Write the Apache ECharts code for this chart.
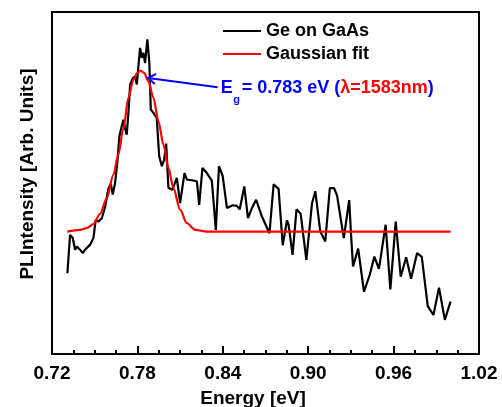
<!DOCTYPE html>
<html>
<head>
<meta charset="utf-8">
<script src="https://cdn.jsdelivr.net/npm/echarts@6/dist/echarts.min.js"></script>
<style>
  html, body { margin: 0; padding: 0; background: #fff; }
  #chart { width: 502px; height: 407px; }
</style>
</head>
<body>
<div id="chart"></div>
<script>
// Photoluminescence spectrum of Ge grown on GaAs (energies in eV, intensity in arbitrary units)
const energyEV = [
  0.7308, 0.7327, 0.7346, 0.7362, 0.7374, 0.7397, 0.7416, 0.7432, 0.7467, 0.7491,
  0.7507, 0.7526, 0.7550, 0.7573, 0.7596, 0.7613, 0.7627, 0.7643, 0.7659, 0.7673,
  0.7690, 0.7702, 0.7716, 0.7725, 0.7737, 0.7749, 0.7768, 0.7784, 0.7796, 0.7807,
  0.7819, 0.7831, 0.7842, 0.7854, 0.7870, 0.7884, 0.7894, 0.7913, 0.7936, 0.7953,
  0.7972, 0.7988, 0.8002, 0.8018, 0.8046, 0.8077, 0.8100, 0.8131, 0.8148, 0.8183,
  0.8218, 0.8234, 0.8257, 0.8288, 0.8323, 0.8351, 0.8373, 0.8399, 0.8429, 0.8470,
  0.8499, 0.8519, 0.8551, 0.8577, 0.8605, 0.8634, 0.8675, 0.8728, 0.8757, 0.8792,
  0.8821, 0.8851, 0.8862, 0.8890, 0.8918, 0.8947, 0.8987, 0.9027, 0.9050, 0.9085,
  0.9120, 0.9152, 0.9182, 0.9203, 0.9250, 0.9288, 0.9301, 0.9315, 0.9351, 0.9392,
  0.9432, 0.9465, 0.9497, 0.9544, 0.9577, 0.9615, 0.9650, 0.9688, 0.9723, 0.9765,
  0.9798, 0.9840, 0.9880, 0.9919, 0.9960, 1.0000
];
const plIntensity = [
  23.6, 34.8, 33.9, 30.5, 31.4, 30.5, 29.5, 30.5, 31.9, 33.9,
  39.2, 38.7, 39.7, 43.0, 48.3, 49.8, 46.6, 50.0, 55.9, 63.6,
  66.6, 68.5, 65.6, 64.1, 70.6, 78.8, 80.7, 81.2, 78.8, 84.1,
  89.5, 86.6, 88.1, 85.1, 92.0, 85.1, 71.5, 70.5, 69.0, 57.8,
  54.9, 56.8, 61.5, 48.6, 48.0, 51.5, 44.1, 52.9, 51.0, 50.8,
  50.5, 43.6, 54.4, 52.9, 50.7, 36.3, 54.9, 52.1, 42.7, 43.5,
  43.3, 42.3, 49.0, 39.7, 42.7, 45.1, 40.2, 35.3, 49.6, 48.3,
  31.8, 39.1, 37.8, 29.0, 42.3, 41.0, 27.5, 44.1, 47.6, 35.8,
  32.9, 48.5, 48.5, 46.3, 33.9, 45.0, 34.9, 25.6, 30.8, 18.2,
  23.1, 28.5, 24.9, 37.8, 18.9, 38.7, 22.6, 28.3, 22.0, 29.5,
  28.4, 14.0, 11.4, 19.4, 10.0, 15.3
];

// Gaussian fit to the band-edge peak
const fitEnergy = [
  0.7308, 0.7397, 0.7444, 0.7491, 0.7538, 0.7585, 0.7631, 0.7666, 0.7702, 0.7737,
  0.7772, 0.7800, 0.7824, 0.7847, 0.7877, 0.7913, 0.7948, 0.7983, 0.8018, 0.8053,
  0.8100, 0.8147, 0.8206, 0.8288, 0.8400, 1.0000
];
const fitIntensity = [
  35.8, 36.3, 36.8, 38.0, 41.0, 45.6, 52.4, 58.3, 66.1, 74.9,
  80.2, 82.2, 82.9, 82.2, 79.7, 74.9, 68.0, 61.2, 54.4, 48.5,
  42.2, 38.3, 36.3, 35.8, 35.8, 35.8
];

// Axis ticks (eV)
const energyTicks = [0.72, 0.78, 0.84, 0.90, 0.96, 1.02];

// Band-gap annotation: arrow from label to the fitted curve
const bandGapText = '0.783 eV';
const wavelengthText = 'λ=1583nm';
const arrowTip = [0.7875, 80.7];
const arrowTail = [0.8364, 78.0];

const FONT = 'Arial, "Liberation Sans", Helvetica, sans-serif';
const BLUE = '#0000ff';
const RED = '#ff0000';

const chart = echarts.init(document.getElementById('chart'), null, { renderer: 'canvas' });

const option = {
  animation: false,
  backgroundColor: '#fff',
  textStyle: { fontFamily: FONT },
  grid: {
    left: 52, right: 23, top: 12, bottom: 53,
    outerBoundsMode: 'none',
    show: true, borderColor: '#000', borderWidth: 2, backgroundColor: 'transparent'
  },
  legend: {
    orient: 'vertical',
    left: 223, top: 22,
    padding: 0,
    itemGap: 5,
    itemWidth: 38, itemHeight: 2,
    icon: 'rect',
    textStyle: { fontFamily: FONT, fontSize: 18, fontWeight: 'bold', color: '#000' },
    data: ['Ge on GaAs', 'Gaussian fit']
  },
  xAxis: {
    type: 'value',
    min: energyTicks[0],
    max: energyTicks[energyTicks.length - 1],
    interval: 0.06,
    name: 'Energy [eV]',
    nameLocation: 'middle',
    nameGap: 35,
    nameTextStyle: { fontFamily: FONT, fontSize: 19, fontWeight: 'bold', color: '#000', padding: [0, 25, 0, 0] },
    axisLine: { show: true, lineStyle: { color: '#000', width: 2 } },
    axisTick: { show: true, inside: true, length: 8, lineStyle: { color: '#000', width: 2 } },
    minorTick: { show: true, splitNumber: 4, length: 4, lineStyle: { color: '#000', width: 2 } },
    axisLabel: {
      margin: 10,
      fontFamily: FONT, fontSize: 19, fontWeight: 'bold', color: '#000',
      formatter: v => v.toFixed(2)
    },
    splitLine: { show: false }
  },
  yAxis: {
    type: 'value',
    min: 0, max: 100,
    name: 'PLIntensity [Arb. Units]',
    nameLocation: 'middle',
    nameGap: 15,
    nameTextStyle: { fontFamily: FONT, fontSize: 19, fontWeight: 'bold', color: '#000', padding: [0, 0, 0, 18] },
    axisLine: { show: true, lineStyle: { color: '#000', width: 2 } },
    axisTick: { show: false },
    axisLabel: { show: false },
    splitLine: { show: false }
  },
  series: [
    {
      name: 'Ge on GaAs',
      type: 'line',
      data: energyEV.map((e, i) => [e, plIntensity[i]]),
      showSymbol: false,
      lineStyle: { color: '#000', width: 2.2 },
      itemStyle: { color: '#000' },
      z: 2
    },
    {
      name: 'Gaussian fit',
      type: 'line',
      data: fitEnergy.map((e, i) => [e, fitIntensity[i]]),
      showSymbol: false,
      smooth: 0.3,
      smoothMonotone: 'x',
      lineStyle: { color: RED, width: 2.2 },
      itemStyle: { color: RED },
      z: 3
    }
  ]
};

chart.setOption(option);

// Arrow and label positioned from data coordinates
const tip = chart.convertToPixel({ gridIndex: 0 }, arrowTip);
const tail = chart.convertToPixel({ gridIndex: 0 }, arrowTail);
const ang = Math.atan2(tail[1] - tip[1], tail[0] - tip[0]);
const headLen = 9, headSpread = 0.6;
const armA = [tip[0] + headLen * Math.cos(ang + headSpread), tip[1] + headLen * Math.sin(ang + headSpread)];
const armB = [tip[0] + headLen * Math.cos(ang - headSpread), tip[1] + headLen * Math.sin(ang - headSpread)];
const lx = tail[0] + 3, ly = tail[1] + 1;

chart.setOption({
  graphic: [
    { type: 'polyline', shape: { points: [tail, tip] }, style: { stroke: BLUE, lineWidth: 2, fill: null }, z: 10 },
    { type: 'polyline', shape: { points: [armA, tip, armB] }, style: { stroke: BLUE, lineWidth: 2, fill: null }, z: 10 },
    {
      type: 'text', x: lx, y: ly, z: 10,
      style: { text: 'E', font: 'bold 18px ' + FONT, fill: BLUE, verticalAlign: 'middle', align: 'left' }
    },
    {
      type: 'text', x: lx + 12.5, y: ly + 12, z: 10,
      style: { text: 'g', font: 'bold 11px ' + FONT, fill: BLUE, verticalAlign: 'middle', align: 'left' }
    },
    {
      type: 'text', x: lx + 21, y: ly, z: 10,
      style: {
        text: '= ' + bandGapText + ' ({r|' + wavelengthText + '})',
        font: 'bold 18px ' + FONT, fill: BLUE, verticalAlign: 'middle', align: 'left',
        rich: { r: { fill: RED, font: 'bold 18px ' + FONT } }
      }
    }
  ]
});
</script>
</body>
</html>
